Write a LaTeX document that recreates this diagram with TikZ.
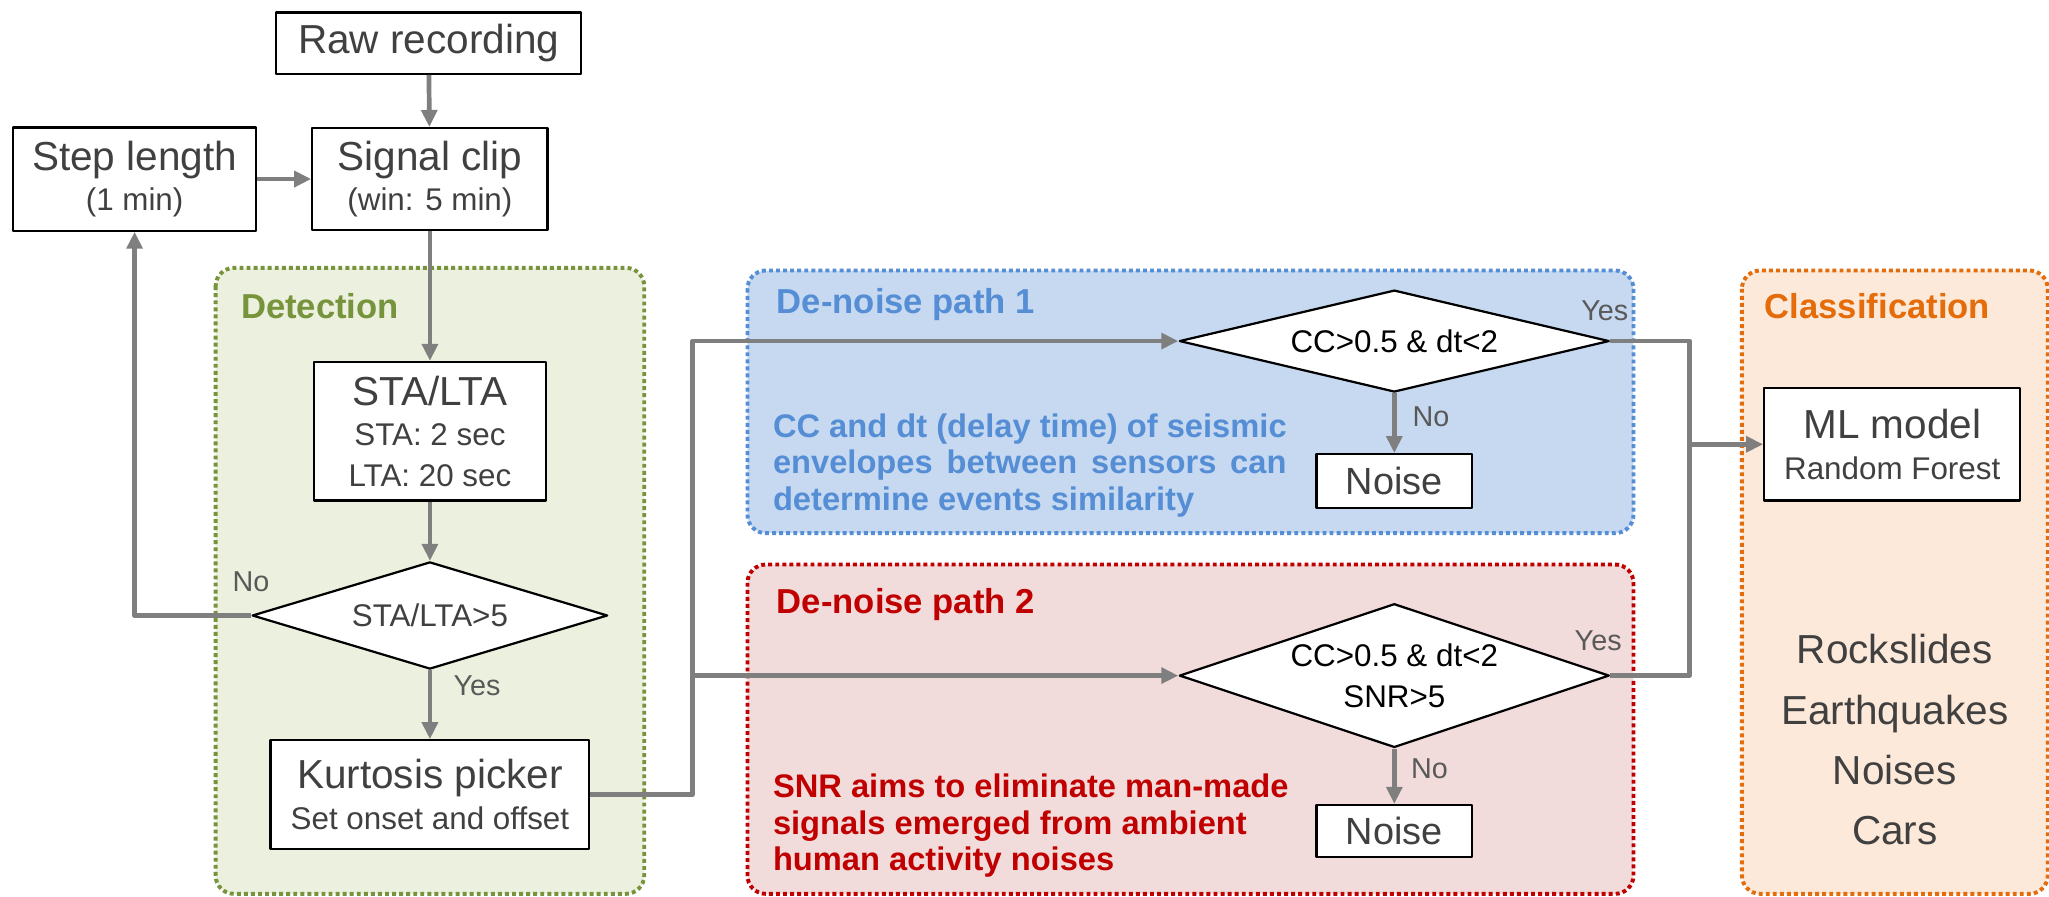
\documentclass[tikz,border=0pt]{standalone}
\usepackage{fontspec}
\setmainfont{Liberation Sans}
\usetikzlibrary{arrows.meta,shapes.geometric}

\definecolor{flowgray}{HTML}{7F7F7F}
\definecolor{txtgray}{HTML}{404040}
\definecolor{yngray}{HTML}{595959}
\definecolor{detfill}{HTML}{EBF1DE}
\definecolor{detline}{HTML}{77933C}
\definecolor{bluefill}{HTML}{C6D9F1}
\definecolor{blueline}{HTML}{558ED5}
\definecolor{redfill}{HTML}{F2DCDB}
\definecolor{redline}{HTML}{C00000}
\definecolor{orfill}{HTML}{FDE9D9}
\definecolor{orline}{HTML}{E46C0A}

\newcommand{\bigtxt}{\fontsize{31}{36}\selectfont}
\newcommand{\smtxt}{\fontsize{24}{31}\selectfont}
\newcommand{\headtxt}{\fontsize{26.5}{30}\selectfont\bfseries}

\begin{document}
\begin{tikzpicture}[x=1pt,y=-1pt,line join=round,
    box/.style={draw=black,line width=1.7pt,fill=white,text=txtgray,inner sep=0pt,align=center,font=\smtxt},
    decision/.style={diamond,draw=black,line width=1.7pt,fill=white,inner sep=0pt},
    dtext/.style={font=\smtxt,align=center},
    flow/.style={draw=flowgray,line width=3.6pt,-{Triangle[length=13pt,width=12pt]}},
    link/.style={draw=flowgray,line width=3.6pt},
    panel/.style={line width=3pt,dash pattern=on 3pt off 2.4pt,rounded corners=14pt},
    yn/.style={text=yngray,font=\fontsize{22}{26}\selectfont},
    head/.style={anchor=west,font=\headtxt},
    note/.style={anchor=west,align=left,font=\fontsize{25}{28}\selectfont\bfseries}]
  \useasboundingbox (0,0) rectangle (1568,686);

  % coloured panels
  \draw[panel,fill=detfill,draw=detline] (165,205) rectangle (493,684);
  \draw[panel,fill=bluefill,draw=blueline] (572,207) rectangle (1250,408);
  \draw[panel,fill=redfill,draw=redline] (572,432) rectangle (1250,684);
  \draw[panel,fill=orfill,draw=orline] (1333,207) rectangle (1567,684);
  \node[head,text=detline] (dettitle) at (181,234) {Detection};
  \node[head,text=blueline] (p1title) at (591,233) {De-noise path 1};
  \node[head,text=redline] (p2title) at (591,463) {De-noise path 2};
  \node[head,text=orline] (cltitle) at (1347,234) {Classification};

  % boxes
  \node[box,minimum width=233pt,minimum height=47pt,font=\bigtxt] (raw) at (328,33) {Raw recording};
  \node[box,minimum width=186pt,minimum height=79pt] (step) at (103,137) {{\bigtxt Step length}\\(1 min)};
  \node[box,minimum width=180pt,minimum height=78pt] (clip) at (329,137) {{\bigtxt Signal clip}\\(win: 5 min)};
  \node[box,minimum width=178pt,minimum height=106pt] (sta) at (329,330) {{\bigtxt STA/LTA}\\STA: 2 sec\\LTA: 20 sec};
  \node[decision,minimum width=272pt,minimum height=82pt,
        label={[dtext,text=txtgray]center:STA/LTA>5}] (d0) at (329,471) {};
  \node[box,minimum width=244pt,minimum height=83pt] (kurt) at (329,608) {{\bigtxt Kurtosis picker}\\Set onset and offset};

  \node[decision,minimum width=329pt,minimum height=78pt,
        label={[dtext]center:CC>0.5 \& dt<2}] (d1) at (1067,261) {};
  \node[box,minimum width=119pt,minimum height=41pt,font=\fontsize{29}{34}\selectfont] (n1) at (1067,368) {Noise};
  \node[decision,minimum width=329pt,minimum height=110pt,
        label={[dtext]center:CC>0.5 \& dt<2\\SNR>5}] (d2) at (1067,517) {};
  \node[box,minimum width=119pt,minimum height=40pt,font=\fontsize{29}{34}\selectfont] (n2) at (1067,636) {Noise};

  \node[box,minimum width=196pt,minimum height=86pt] (ml) at (1448,340) {{\bigtxt ML model}\\Random Forest};
  \node[text=txtgray,align=center,font=\fontsize{31}{46}\selectfont] (classes) at (1450,566) {Rockslides\\Earthquakes\\Noises\\Cars};

  % notes
  \node[note,text=blueline] (note1) at (588,356) {CC and dt (delay time) of seismic\\\makebox[393pt][s]{envelopes between sensors can}\\determine events similarity};
  \node[note,text=redline] (note2) at (588,632) {SNR aims to eliminate man-made\\signals emerged from ambient\\human activity noises};

  % connectors
  \coordinate (jl) at (530,517);
  \coordinate (jr) at (1293,340);
  \draw[flow] (raw) -- (clip);
  \draw[flow] (step) -- (clip);
  \draw[flow] (clip) -- (sta);
  \draw[flow] (sta) -- (d0.north);
  \draw[flow] (d0.west) -| (step.south);
  \draw[flow] (d0.south) -- (kurt);
  \draw[link] (kurt.east) -| (jl);
  \draw[flow] (jl) |- (d1.west);
  \draw[flow] (jl) -- (d2.west);
  \draw[flow] (d1.south) -- (n1);
  \draw[flow] (d2.south) -- (n2);
  \draw[link] (d1.east) -| (jr);
  \draw[link] (d2.east) -| (jr);
  \draw[flow] (jr) -- (ml);

  % yes / no
  \node[yn] (no0) at (192,445) {No};
  \node[yn] (yes0) at (365,525) {Yes};
  \node[yn] (yes1) at (1228,238) {Yes};
  \node[yn] (no1) at (1095,319) {No};
  \node[yn] (yes2) at (1223,490) {Yes};
  \node[yn] (no2) at (1094,588) {No};
\end{tikzpicture}
\end{document}
